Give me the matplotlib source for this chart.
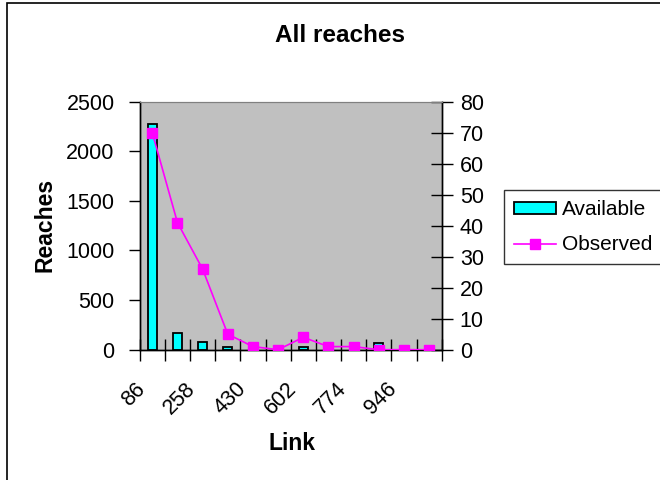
import matplotlib
matplotlib.use("Agg")
import matplotlib.pyplot as plt
import matplotlib.transforms as mtransforms
from matplotlib.lines import Line2D
from matplotlib.patches import Patch, Rectangle

plt.rcParams["font.family"] = ["Liberation Sans", "DejaVu Sans"]

links = [86, 172, 258, 344, 430, 516, 602, 688, 774, 860, 946, 1032]
available = [2280, 170, 75, 30, 0, 0, 30, 0, 0, 65, 0, 0]
observed = [70, 41, 26, 5, 1, 0, 4, 1, 1, 0, 0, 0]
reach_ticks = [0, 500, 1000, 1500, 2000, 2500]
obs_ticks = [0, 10, 20, 30, 40, 50, 60, 70, 80]

W, H = 660, 480
fig = plt.figure(figsize=(W / 100, H / 100), dpi=100)

# chart frame (runs off the right and bottom edges)
fig.patches.append(Rectangle((7 / W, -0.1), 1.2, 1 - 3 / H + 0.1,
                             transform=fig.transFigure, fill=False,
                             edgecolor="black", linewidth=1.2))

left, right, top, bottom = 139.7, 441.7, 101.7, 349.7
ax = fig.add_axes([left / W, 1 - bottom / H, (right - left) / W, (bottom - top) / H])
ax.set_facecolor("#C0C0C0")

pos = list(range(len(links)))
ax.bar(pos, available, width=0.36, color="#00FFFF", edgecolor="black",
       linewidth=1.3, zorder=2)
ax.set_xlim(-0.5, len(links) - 0.5)
ax.set_ylim(0, 2500)
ax.set_yticks(reach_ticks)
ax.tick_params(axis="y", direction="out", length=8, width=1, labelsize=15.5, pad=10)

# category boundaries get the tick marks, every other category gets a label
ax.set_xticks([p - 0.5 for p in pos] + [len(links) - 0.5])
ax.set_xticklabels([])
ax.tick_params(axis="x", which="major", direction="inout", length=16, width=1)
ax.set_xticks(pos[::2], minor=True)
ax.set_xticklabels([str(v) for v in links[::2]], minor=True, rotation=45,
                   ha="right", va="center", rotation_mode="anchor")
ax.tick_params(axis="x", which="minor", length=0, labelsize=15.5, pad=26)
shift = mtransforms.ScaledTranslation(-10 / 100, 0, fig.dpi_scale_trans)
for lbl in ax.get_xticklabels(minor=True):
    lbl.set_transform(lbl.get_transform() + shift)

ax2 = ax.twinx()
ax2.plot(pos, observed, color="#FF00FF", linewidth=1.2, marker="s",
         markersize=6.5, markeredgecolor="#FF00FF", zorder=3)
ax2.set_ylim(0, 80)
ax2.set_yticks(obs_ticks)
ax2.tick_params(axis="y", direction="inout", length=16, width=1, labelsize=15.5, pad=5)

for a in (ax, ax2):
    a.spines["top"].set_color("#808080")
    for side in ("left", "right", "bottom"):
        a.spines[side].set_color("black")
        a.spines[side].set_linewidth(1)

fig.text(340 / W, 1 - 36 / H, "All reaches", ha="center", va="center",
         fontsize=17.5, fontweight="bold")
fig.text(45 / W, 1 - 225 / H, "Reaches", ha="center", va="center",
         rotation=90, fontsize=16.5, fontweight="bold")
fig.text(292 / W, 1 - 443 / H, "Link", ha="center", va="center",
         fontsize=16.5, fontweight="bold")

handles = [
    Patch(facecolor="#00FFFF", edgecolor="black", linewidth=1.3),
    Line2D([], [], color="#FF00FF", linewidth=1.2, marker="s", markersize=6.5),
]
leg = fig.legend(handles, ["Available", "Observed"], loc="upper left",
                 bbox_to_anchor=(504 / W, 1 - 190 / H), fontsize=15,
                 frameon=True, fancybox=False, handlelength=2.0,
                 handleheight=0.45, handletextpad=0.3, borderpad=0.5,
                 labelspacing=0.75, borderaxespad=0)
leg.get_frame().set_edgecolor("black")
leg.get_frame().set_linewidth(1)

fig.savefig("out.png", dpi=100)
